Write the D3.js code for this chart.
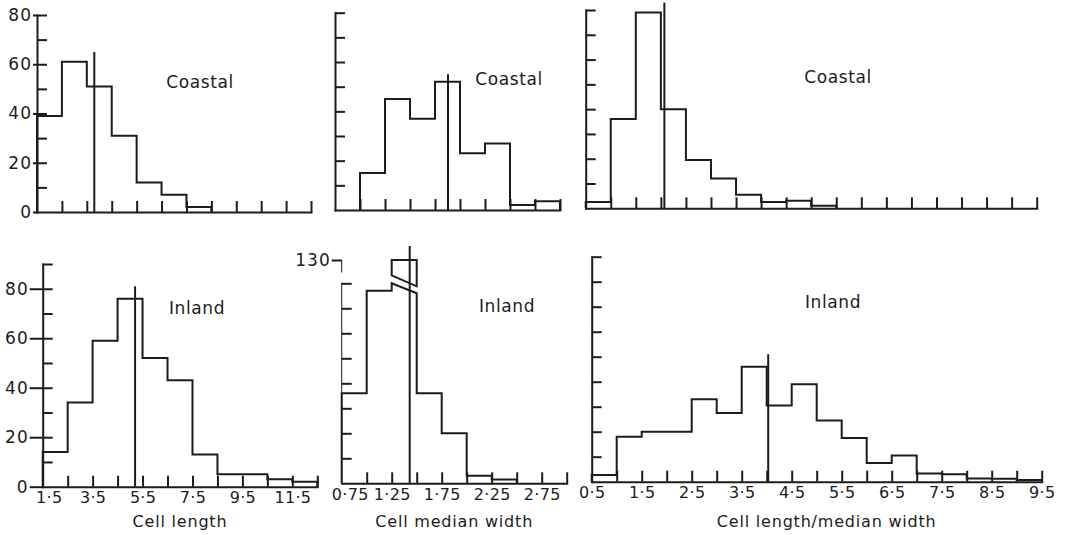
<!DOCTYPE html>
<html lang="en">
<head>
<meta charset="UTF-8">
<title>Cell size histograms</title>
<script src="https://d3js.org/d3.v7.min.js"></script>
<style>
  body { margin: 0; background: #fff; }
  svg { display: block; }
  text { font-family: "DejaVu Sans", sans-serif; fill: #1c1c1c; }
</style>
</head>
<body>
<svg width="1066" height="535"></svg>
<script>
// counts per bin
const coastalLength = [39, 61, 51, 31, 12, 7, 2, 0, 0, 0, 0];
const inlandLength  = [14, 34, 59, 76, 52, 43, 13, 5, 5, 3, 2];
const coastalWidth  = [0, 15, 45, 37, 52, 23, 27, 2, 3.5];
const inlandWidth   = [36, 77, 130, 36, 20, 3, 1.5, 0, 0];
const coastalRatio  = [2.5, 36, 79, 40, 19.5, 12, 5.5, 2.5, 3, 1, 0, 0, 0, 0, 0, 0, 0, 0];
const inlandRatio   = [2.7, 18, 20, 20, 33, 27.5, 46, 30.5, 39, 24.5, 17.5, 7.5, 10.5, 3.3, 3, 1.3, 1.2, 0.7];

// bins: [first edge, last edge, width]
const lengthBins = [1.5, 12.5, 1];
const widthBins  = [0.75, 3.0, 0.25];
const ratioBins  = [0.5, 9.5, 0.5];

// medians (length, width, ratio) and how high the marker is drawn
const coastalMedian    = [3.8, 1.88, 2.07];
const coastalMedianTop = [65, 55, 83];
const inlandMedian     = [5.2, 1.43, 4.03];
const inlandMedianTop  = [81, 160, 51];

const countLabels  = [0, 20, 40, 60, 80];
const brokenLabel  = [130];
const lengthLabels = [1.5, 3.5, 5.5, 7.5, 9.5, 11.5];
const widthLabels  = [0.75, 1.25, 1.75, 2.25, 2.75];
const ratioLabels  = [0.5, 1.5, 2.5, 3.5, 4.5, 5.5, 6.5, 7.5, 8.5, 9.5];
const axisTitles   = ["Cell length", "Cell median width", "Cell length/median width"];

const ink = "#1c1c1c";
const svg = d3.select("svg");
const dot = v => String(v).replace(".", "\u00b7");

const panels = [
  {counts: coastalLength, bins: lengthBins, xr: [37, 311],
   y: d3.scaleLinear().domain([0, 80]).range([212, 15]), yMax: 80,
   yLabels: countLabels, yExt: 4, med: coastalMedian[0], medTop: coastalMedianTop[0],
   name: "Coastal", namePos: [200, 82]},
  {counts: coastalWidth, bins: widthBins, xr: [335, 560],
   y: d3.scaleLinear().domain([0, 80]).range([210, 12.7]), yMax: 80,
   med: coastalMedian[1], medTop: coastalMedianTop[1],
   name: "Coastal", namePos: [509, 79]},
  {counts: coastalRatio, bins: ratioBins, xr: [585.7, 1036.7],
   y: d3.scaleLinear().domain([0, 80]).range([208.3, 10]), yMax: 80,
   med: coastalMedian[2], medTop: coastalMedianTop[2],
   name: "Coastal", namePos: [838, 77]},
  {counts: inlandLength, bins: lengthBins, xr: [42.7, 317.3],
   y: d3.scaleLinear().domain([0, 90]).range([486.7, 264]), yMax: 90,
   yLabels: countLabels.filter(v => v <= 80), yExt: 13, med: inlandMedian[0], medTop: inlandMedianTop[0],
   name: "Inland", namePos: [197, 308], xLabels: lengthLabels, firstDx: 6, title: axisTitles[0]},
  {counts: inlandWidth, bins: widthBins, xr: [341.7, 566.7],
   y: d3.scaleLinear().domain([0, 80, 130]).range([483.3, 283.3, 260]), yMax: 80, breakAt: 80,
   yLabels: brokenLabel, yExt: 10, med: inlandMedian[1], medTop: inlandMedianTop[1],
   name: "Inland", namePos: [507, 306], xLabels: widthLabels, firstDx: 8, title: axisTitles[1]},
  {counts: inlandRatio, bins: ratioBins, xr: [591.7, 1041.7],
   y: d3.scaleLinear().domain([0, 90]).range([481.7, 256.7]), yMax: 90,
   med: inlandMedian[2], medTop: inlandMedianTop[2],
   name: "Inland", namePos: [833, 302], xLabels: ratioLabels, firstDx: 0, title: axisTitles[2]}
];

panels.forEach(p => {
  const [x0, x1, step] = p.bins;
  const x = d3.scaleLinear().domain([x0, x1]).range(p.xr);
  const y = p.y;
  const base = y(0);
  const g = svg.append("g").attr("color", ink);

  // y axis, ticks pointing inwards
  const yAxis = g.append("g")
    .attr("transform", `translate(${p.xr[0]},0)`)
    .call(d3.axisLeft(y).tickValues(d3.range(10, p.yMax + 1, 10)).tickSize(-10).tickSizeOuter(0).tickFormat(""));
  if (p.breakAt) {
    yAxis.select(".domain").remove();
    yAxis.append("path").attr("stroke", ink).attr("fill", "none")
      .attr("d", `M0,${base}V${y(p.breakAt)}M0,${y(130)}V${y(130) + 12}`);
  }
  if (p.yLabels) {
    const lab = g.append("g")
      .attr("transform", `translate(${p.xr[0]},0)`)
      .call(d3.axisLeft(y).tickValues(p.yLabels).tickSize(p.yExt).tickPadding(1).tickFormat(d3.format("d")));
    lab.select(".domain").remove();
    lab.attr("font-size", null).attr("font-family", null);
    lab.selectAll("text").style("font-size", "17px").style("letter-spacing", "1px");
  }

  // x axis, ticks pointing up
  g.append("g")
    .attr("transform", `translate(0,${base})`)
    .call(d3.axisBottom(x).tickValues(d3.range(x0 + step, x1 + step / 2, step)).tickSize(-11).tickSizeOuter(0).tickFormat(""));

  if (p.xLabels) {
    const lab = g.append("g")
      .attr("transform", `translate(0,${base})`)
      .call(d3.axisBottom(x).tickValues(p.xLabels).tickSize(0).tickPadding(5).tickFormat(dot));
    lab.select(".domain").remove();
    lab.attr("font-size", null).attr("font-family", null);
    lab.selectAll("text").style("font-size", "16px").style("letter-spacing", "0.3px")
      .attr("dx", (d, i) => i === 0 ? p.firstDx : 0);
  }

  g.selectAll("path.domain, .tick line").attr("stroke-width", 2);
  g.selectAll("path").attr("stroke-linecap", "square");

  // step outline of the histogram
  const c = p.counts;
  const first = c.findIndex(v => v > 0);
  const last = c.length - 1 - c.slice().reverse().findIndex(v => v > 0);
  const pts = [[x(x0 + first * step), base]];
  let box = null;
  for (let i = first; i <= last; i++) {
    const l = x(x0 + i * step), r = x(x0 + (i + 1) * step);
    if (p.breakAt && c[i] > p.breakAt) {
      const yb = y(p.breakAt);
      pts.push([l, yb], [r, yb + 10]);
      box = [[l, yb - 8], [l, y(c[i])], [r, y(c[i])], [r, yb + 3]];
    } else {
      pts.push([l, y(c[i])], [r, y(c[i])]);
    }
  }
  pts.push([x(x0 + (last + 1) * step), base]);

  g.append("path")
    .attr("d", d3.line()(pts))
    .attr("fill", "none").attr("stroke", ink).attr("stroke-width", 2);
  if (box) {
    g.append("path")
      .attr("d", d3.line()(box) + "Z")
      .attr("fill", "none").attr("stroke", ink).attr("stroke-width", 2);
  }

  // median marker
  g.append("line")
    .attr("x1", x(p.med)).attr("x2", x(p.med))
    .attr("y1", base).attr("y2", y(p.medTop))
    .attr("stroke", ink).attr("stroke-width", 2);

  g.append("text")
    .attr("x", p.namePos[0]).attr("y", p.namePos[1])
    .attr("text-anchor", "middle").attr("dominant-baseline", "central")
    .style("font-size", "17px").style("letter-spacing", "0.6px")
    .text(p.name);

  if (p.title) {
    g.append("text")
      .attr("x", d3.mean(p.xr) + (p.bins === ratioBins ? 10 : 0)).attr("y", 527)
      .attr("text-anchor", "middle")
      .style("font-size", "16px").style("letter-spacing", "0.8px")
      .text(p.title);
  }
});
</script>
</body>
</html>
